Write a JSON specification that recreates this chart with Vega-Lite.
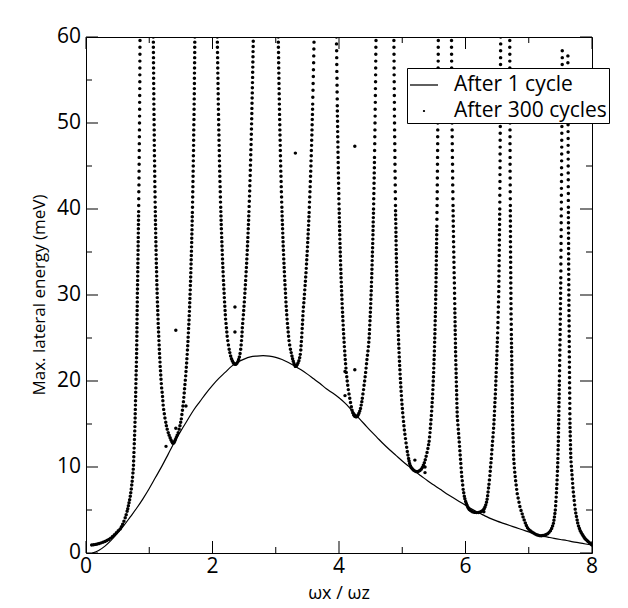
{
"$schema":"https://vega.github.io/schema/vega-lite/v6.json",
"width":506,"height":516,
"autosize":"none",
"padding":{"left":86,"top":37,"right":36,"bottom":55},
"background":"white",
"config":{"view":{"stroke":"black","strokeWidth":1},"font":"Open Sans"},
"datasets":{
"xticks":[{"v":0},{"v":1},{"v":2},{"v":3},{"v":4},{"v":5},{"v":6},{"v":7},{"v":8}],
"yticks":[{"v":0},{"v":5},{"v":10},{"v":15},{"v":20},{"v":25},{"v":30},{"v":35},{"v":40},{"v":45},{"v":50},{"v":55},{"v":60}],
"cycle1":[{"x":0.1,"y":0},{"x":0.2,"y":0.3},{"x":0.3,"y":0.8},{"x":0.4,"y":1.5},{"x":0.5,"y":2.3},{"x":0.6,"y":3.2},{"x":0.7,"y":4.2},{"x":0.8,"y":5.2},{"x":0.9,"y":6.3},{"x":1.0,"y":7.5},{"x":1.1,"y":8.8},{"x":1.2,"y":10.1},{"x":1.3,"y":11.5},{"x":1.4,"y":12.9},{"x":1.5,"y":14.2},{"x":1.6,"y":15.4},{"x":1.7,"y":16.6},{"x":1.8,"y":17.6},{"x":1.9,"y":18.6},{"x":2.0,"y":19.5},{"x":2.1,"y":20.3},{"x":2.2,"y":21.0},{"x":2.3,"y":21.7},{"x":2.4,"y":22.2},{"x":2.5,"y":22.55},{"x":2.6,"y":22.8},{"x":2.7,"y":22.9},{"x":2.8,"y":22.95},{"x":2.9,"y":22.9},{"x":3.0,"y":22.75},{"x":3.1,"y":22.5},{"x":3.2,"y":22.15},{"x":3.3,"y":21.75},{"x":3.4,"y":21.3},{"x":3.5,"y":20.8},{"x":3.6,"y":20.25},{"x":3.7,"y":19.7},{"x":3.8,"y":19.1},{"x":3.9,"y":18.6},{"x":4.0,"y":18.05},{"x":4.1,"y":17.4},{"x":4.2,"y":16.6},{"x":4.3,"y":15.8},{"x":4.4,"y":15.0},{"x":4.5,"y":14.2},{"x":4.6,"y":13.45},{"x":4.7,"y":12.7},{"x":4.8,"y":12.0},{"x":4.9,"y":11.35},{"x":5.0,"y":10.7},{"x":5.1,"y":10.1},{"x":5.2,"y":9.5},{"x":5.3,"y":8.95},{"x":5.4,"y":8.4},{"x":5.5,"y":7.9},{"x":5.6,"y":7.4},{"x":5.7,"y":6.9},{"x":5.8,"y":6.45},{"x":5.9,"y":6.0},{"x":6.0,"y":5.55},{"x":6.1,"y":5.1},{"x":6.2,"y":4.7},{"x":6.3,"y":4.35},{"x":6.4,"y":4.0},{"x":6.5,"y":3.7},{"x":6.6,"y":3.45},{"x":6.7,"y":3.2},{"x":6.8,"y":2.95},{"x":6.9,"y":2.7},{"x":7.0,"y":2.45},{"x":7.1,"y":2.2},{"x":7.2,"y":2.0},{"x":7.3,"y":1.85},{"x":7.4,"y":1.7},{"x":7.5,"y":1.57},{"x":7.6,"y":1.45},{"x":7.7,"y":1.3},{"x":7.8,"y":1.18},{"x":7.9,"y":1.05},{"x":8.0,"y":0.93}],
"cycle300":[
{"x":0.09,"y":0.93},{"x":0.12,"y":0.96},{"x":0.15,"y":1.0},{"x":0.18,"y":1.05},{"x":0.21,"y":1.11},{"x":0.24,"y":1.18},{"x":0.27,"y":1.26},{"x":0.30,"y":1.35},{"x":0.33,"y":1.45},{"x":0.36,"y":1.58},{"x":0.39,"y":1.73},{"x":0.42,"y":1.92},{"x":0.45,"y":2.13},{"x":0.48,"y":2.35},{"x":0.51,"y":2.58},{"x":0.54,"y":2.8},
{"x":0.56,"y":3.05},{"x":0.58,"y":3.35},{"x":0.60,"y":3.7},{"x":0.62,"y":4.1},{"x":0.635,"y":4.45},{"x":0.65,"y":4.85},{"x":0.66,"y":5.15},{"x":0.67,"y":5.5},{"x":0.68,"y":5.85},{"x":0.69,"y":6.2},{"x":0.70,"y":6.6},{"x":0.708,"y":7.0},{"x":0.716,"y":7.45},{"x":0.723,"y":7.9},{"x":0.73,"y":8.35},{"x":0.736,"y":8.8},{"x":0.742,"y":9.3},{"x":0.747,"y":9.75},{"x":0.751,"y":10.2},
{"x":0.753,"y":10.7},{"x":0.756,"y":11.2},{"x":0.758,"y":11.7},{"x":0.761,"y":12.2},{"x":0.763,"y":12.7},{"x":0.766,"y":13.2},{"x":0.768,"y":13.7},{"x":0.771,"y":14.2},{"x":0.773,"y":14.7},{"x":0.775,"y":15.2},{"x":0.777,"y":15.7},{"x":0.778,"y":16.2},{"x":0.780,"y":16.7},{"x":0.782,"y":17.2},{"x":0.783,"y":17.7},{"x":0.785,"y":18.2},{"x":0.786,"y":18.7},{"x":0.788,"y":19.2},{"x":0.789,"y":19.7},{"x":0.791,"y":20.2},{"x":0.792,"y":20.7},{"x":0.794,"y":21.2},{"x":0.796,"y":21.7},{"x":0.797,"y":22.2},{"x":0.799,"y":22.7},
{"x":0.800,"y":23.2},{"x":0.801,"y":23.7},{"x":0.802,"y":24.2},{"x":0.803,"y":24.7},{"x":0.804,"y":25.2},{"x":0.805,"y":25.7},{"x":0.805,"y":26.2},{"x":0.806,"y":26.7},{"x":0.807,"y":27.2},{"x":0.808,"y":27.7},{"x":0.809,"y":28.2},{"x":0.810,"y":28.7},{"x":0.811,"y":29.2},{"x":0.811,"y":29.7},{"x":0.812,"y":30.2},{"x":0.814,"y":30.7},{"x":0.815,"y":31.2},{"x":0.816,"y":31.7},{"x":0.817,"y":32.2},{"x":0.818,"y":32.7},{"x":0.819,"y":33.2},{"x":0.820,"y":33.7},{"x":0.821,"y":34.2},{"x":0.822,"y":34.7},{"x":0.823,"y":35.2},{"x":0.824,"y":35.7},{"x":0.825,"y":36.2},{"x":0.826,"y":36.7},{"x":0.827,"y":37.2},{"x":0.828,"y":37.7},{"x":0.829,"y":38.2},{"x":0.830,"y":38.7},{"x":0.831,"y":39.2},{"x":0.832,"y":39.7},
{"x":0.833,"y":40.4},{"x":0.834,"y":41.2},{"x":0.835,"y":42.0},{"x":0.837,"y":42.8},{"x":0.838,"y":43.6},{"x":0.839,"y":44.4},{"x":0.840,"y":45.2},{"x":0.841,"y":46.0},{"x":0.842,"y":46.8},{"x":0.843,"y":47.6},{"x":0.844,"y":48.4},{"x":0.845,"y":49.2},{"x":0.846,"y":50.0},{"x":0.847,"y":50.8},{"x":0.848,"y":51.6},{"x":0.848,"y":52.4},{"x":0.849,"y":53.2},{"x":0.850,"y":54.0},{"x":0.851,"y":54.8},{"x":0.851,"y":55.6},{"x":0.852,"y":56.4},{"x":0.852,"y":57.2},{"x":0.853,"y":58.0},{"x":0.853,"y":58.8},{"x":0.854,"y":59.6},
{"x":1.064,"y":60},{"x":1.065,"y":59.4},{"x":1.065,"y":58.8},{"x":1.066,"y":58.2},{"x":1.067,"y":57.6},{"x":1.067,"y":57.0},{"x":1.068,"y":56.4},{"x":1.069,"y":55.8},{"x":1.069,"y":55.2},{"x":1.070,"y":54.6},{"x":1.071,"y":54.0},{"x":1.072,"y":53.4},{"x":1.072,"y":52.8},{"x":1.073,"y":52.2},{"x":1.074,"y":51.6},{"x":1.075,"y":51.0},{"x":1.076,"y":50.4},{"x":1.077,"y":49.8},{"x":1.078,"y":49.2},{"x":1.079,"y":48.6},{"x":1.079,"y":48.0},{"x":1.080,"y":47.4},{"x":1.081,"y":46.8},{"x":1.082,"y":46.2},{"x":1.084,"y":45.6},{"x":1.085,"y":45.0},{"x":1.086,"y":44.4},{"x":1.087,"y":43.8},{"x":1.088,"y":43.2},{"x":1.089,"y":42.6},{"x":1.091,"y":42.0},{"x":1.092,"y":41.4},{"x":1.093,"y":40.8},{"x":1.095,"y":40.2},
{"x":1.096,"y":39.7},{"x":1.097,"y":39.2},{"x":1.098,"y":38.7},{"x":1.099,"y":38.2},{"x":1.101,"y":37.7},{"x":1.102,"y":37.2},{"x":1.103,"y":36.7},{"x":1.105,"y":36.2},{"x":1.106,"y":35.7},{"x":1.108,"y":35.2},{"x":1.109,"y":34.7},{"x":1.111,"y":34.2},{"x":1.112,"y":33.7},{"x":1.114,"y":33.2},{"x":1.116,"y":32.7},{"x":1.118,"y":32.2},{"x":1.119,"y":31.7},{"x":1.121,"y":31.2},{"x":1.123,"y":30.7},{"x":1.125,"y":30.2},{"x":1.127,"y":29.7},{"x":1.129,"y":29.2},{"x":1.132,"y":28.7},{"x":1.134,"y":28.2},{"x":1.136,"y":27.7},{"x":1.139,"y":27.2},{"x":1.141,"y":26.7},{"x":1.144,"y":26.2},{"x":1.147,"y":25.7},{"x":1.150,"y":25.2},{"x":1.153,"y":24.7},{"x":1.156,"y":24.2},{"x":1.159,"y":23.7},{"x":1.162,"y":23.2},{"x":1.166,"y":22.7},{"x":1.170,"y":22.2},{"x":1.173,"y":21.7},{"x":1.178,"y":21.2},{"x":1.182,"y":20.7},{"x":1.186,"y":20.2},{"x":1.191,"y":19.7},{"x":1.196,"y":19.2},
{"x":1.204,"y":18.7},{"x":1.210,"y":18.2},{"x":1.215,"y":17.7},{"x":1.220,"y":17.2},{"x":1.228,"y":16.7},{"x":1.238,"y":16.2},{"x":1.248,"y":15.7},{"x":1.261,"y":15.2},{"x":1.271,"y":14.8},{"x":1.284,"y":14.4},{"x":1.300,"y":14.0},{"x":1.314,"y":13.7},{"x":1.330,"y":13.4},{"x":1.344,"y":13.15},{"x":1.358,"y":12.95},{"x":1.370,"y":12.8},{"x":1.380,"y":12.75},
{"x":1.392,"y":12.85},{"x":1.402,"y":13.0},{"x":1.414,"y":13.2},{"x":1.428,"y":13.45},{"x":1.442,"y":13.7},{"x":1.458,"y":14.0},{"x":1.472,"y":14.4},{"x":1.485,"y":14.8},{"x":1.497,"y":15.2},{"x":1.507,"y":15.6},{"x":1.516,"y":16.1},{"x":1.525,"y":16.6},{"x":1.533,"y":17.1},{"x":1.541,"y":17.6},{"x":1.547,"y":18.1},{"x":1.553,"y":18.6},
{"x":1.558,"y":19.1},{"x":1.564,"y":19.6},{"x":1.570,"y":20.1},{"x":1.576,"y":20.6},{"x":1.581,"y":21.1},{"x":1.586,"y":21.6},{"x":1.591,"y":22.1},{"x":1.595,"y":22.6},{"x":1.600,"y":23.1},{"x":1.604,"y":23.6},{"x":1.608,"y":24.1},{"x":1.612,"y":24.6},{"x":1.615,"y":25.1},{"x":1.619,"y":25.6},{"x":1.622,"y":26.1},{"x":1.626,"y":26.6},{"x":1.629,"y":27.1},{"x":1.632,"y":27.6},{"x":1.635,"y":28.1},{"x":1.638,"y":28.6},{"x":1.640,"y":29.1},{"x":1.643,"y":29.6},{"x":1.645,"y":30.1},{"x":1.648,"y":30.6},{"x":1.650,"y":31.1},{"x":1.653,"y":31.6},{"x":1.655,"y":32.1},{"x":1.657,"y":32.6},{"x":1.659,"y":33.1},{"x":1.661,"y":33.6},{"x":1.663,"y":34.1},{"x":1.665,"y":34.6},{"x":1.667,"y":35.1},{"x":1.669,"y":35.6},{"x":1.671,"y":36.1},{"x":1.672,"y":36.6},{"x":1.674,"y":37.1},{"x":1.676,"y":37.6},{"x":1.677,"y":38.1},{"x":1.679,"y":38.6},{"x":1.680,"y":39.1},{"x":1.682,"y":39.6},
{"x":1.684,"y":40.2},{"x":1.685,"y":40.8},{"x":1.687,"y":41.4},{"x":1.688,"y":42.0},{"x":1.690,"y":42.6},{"x":1.691,"y":43.2},{"x":1.693,"y":43.8},{"x":1.694,"y":44.4},{"x":1.696,"y":45.0},{"x":1.697,"y":45.6},{"x":1.698,"y":46.2},{"x":1.700,"y":46.8},{"x":1.701,"y":47.4},{"x":1.702,"y":48.0},{"x":1.703,"y":48.6},{"x":1.704,"y":49.2},{"x":1.705,"y":49.8},{"x":1.707,"y":50.4},{"x":1.708,"y":51.0},{"x":1.709,"y":51.6},{"x":1.710,"y":52.2},{"x":1.711,"y":52.8},{"x":1.712,"y":53.4},{"x":1.713,"y":54.0},{"x":1.714,"y":54.6},{"x":1.714,"y":55.2},{"x":1.715,"y":55.8},{"x":1.716,"y":56.4},{"x":1.717,"y":57.0},{"x":1.718,"y":57.6},{"x":1.719,"y":58.2},{"x":1.719,"y":58.8},{"x":1.720,"y":59.4},{"x":1.721,"y":60.0},
{"x":2.076,"y":60},{"x":2.077,"y":59.4},{"x":2.078,"y":58.8},{"x":2.079,"y":58.2},{"x":2.081,"y":57.6},{"x":2.082,"y":57.0},{"x":2.083,"y":56.4},{"x":2.084,"y":55.8},{"x":2.086,"y":55.2},{"x":2.087,"y":54.6},{"x":2.088,"y":54.0},{"x":2.090,"y":53.4},{"x":2.091,"y":52.8},{"x":2.092,"y":52.2},{"x":2.094,"y":51.6},{"x":2.095,"y":51.0},{"x":2.097,"y":50.4},{"x":2.098,"y":49.8},{"x":2.100,"y":49.2},{"x":2.102,"y":48.6},{"x":2.103,"y":48.0},{"x":2.105,"y":47.4},{"x":2.107,"y":46.8},{"x":2.109,"y":46.2},{"x":2.110,"y":45.6},{"x":2.112,"y":45.0},{"x":2.114,"y":44.4},{"x":2.116,"y":43.8},{"x":2.118,"y":43.2},{"x":2.121,"y":42.6},{"x":2.123,"y":42.0},{"x":2.125,"y":41.4},{"x":2.127,"y":40.8},{"x":2.130,"y":40.2},
{"x":2.132,"y":39.7},{"x":2.134,"y":39.2},{"x":2.136,"y":38.7},{"x":2.138,"y":38.2},{"x":2.140,"y":37.7},{"x":2.143,"y":37.2},{"x":2.145,"y":36.7},{"x":2.148,"y":36.2},{"x":2.150,"y":35.7},{"x":2.153,"y":35.2},{"x":2.155,"y":34.7},{"x":2.158,"y":34.2},{"x":2.161,"y":33.7},{"x":2.164,"y":33.2},{"x":2.167,"y":32.7},{"x":2.170,"y":32.2},{"x":2.173,"y":31.7},{"x":2.177,"y":31.2},{"x":2.180,"y":30.7},{"x":2.184,"y":30.2},{"x":2.187,"y":29.7},{"x":2.191,"y":29.2},{"x":2.195,"y":28.7},{"x":2.199,"y":28.2},{"x":2.203,"y":27.7},{"x":2.207,"y":27.2},
{"x":2.214,"y":26.7},{"x":2.220,"y":26.2},{"x":2.226,"y":25.7},{"x":2.232,"y":25.2},{"x":2.241,"y":24.7},{"x":2.252,"y":24.2},{"x":2.263,"y":23.7},{"x":2.274,"y":23.3},{"x":2.287,"y":22.9},{"x":2.300,"y":22.6},{"x":2.313,"y":22.35},{"x":2.327,"y":22.15},{"x":2.340,"y":22.0},{"x":2.355,"y":21.95},
{"x":2.370,"y":21.95},{"x":2.385,"y":22.05},{"x":2.400,"y":22.25},{"x":2.413,"y":22.5},{"x":2.425,"y":22.8},{"x":2.436,"y":23.2},{"x":2.446,"y":23.7},{"x":2.453,"y":24.2},{"x":2.459,"y":24.7},{"x":2.464,"y":25.2},{"x":2.468,"y":25.7},{"x":2.471,"y":26.2},
{"x":2.477,"y":26.7},{"x":2.482,"y":27.2},{"x":2.488,"y":27.7},{"x":2.493,"y":28.2},{"x":2.498,"y":28.7},{"x":2.503,"y":29.2},{"x":2.507,"y":29.7},{"x":2.512,"y":30.2},{"x":2.516,"y":30.7},{"x":2.520,"y":31.2},{"x":2.524,"y":31.7},{"x":2.528,"y":32.2},{"x":2.532,"y":32.7},{"x":2.536,"y":33.2},{"x":2.540,"y":33.7},{"x":2.543,"y":34.2},{"x":2.547,"y":34.7},{"x":2.550,"y":35.2},{"x":2.553,"y":35.7},{"x":2.556,"y":36.2},{"x":2.559,"y":36.7},{"x":2.562,"y":37.2},{"x":2.565,"y":37.7},{"x":2.568,"y":38.2},{"x":2.571,"y":38.7},{"x":2.573,"y":39.2},{"x":2.576,"y":39.7},
{"x":2.579,"y":40.3},{"x":2.582,"y":40.9},{"x":2.585,"y":41.5},{"x":2.588,"y":42.1},{"x":2.590,"y":42.7},{"x":2.593,"y":43.3},{"x":2.596,"y":43.9},{"x":2.598,"y":44.5},{"x":2.600,"y":45.1},{"x":2.603,"y":45.7},{"x":2.605,"y":46.3},{"x":2.607,"y":46.9},{"x":2.610,"y":47.5},{"x":2.612,"y":48.1},{"x":2.614,"y":48.7},{"x":2.616,"y":49.3},{"x":2.618,"y":49.9},{"x":2.620,"y":50.5},{"x":2.622,"y":51.1},{"x":2.623,"y":51.7},{"x":2.625,"y":52.3},{"x":2.627,"y":52.9},{"x":2.629,"y":53.5},{"x":2.630,"y":54.1},{"x":2.632,"y":54.7},{"x":2.634,"y":55.3},{"x":2.635,"y":55.9},{"x":2.637,"y":56.5},{"x":2.638,"y":57.1},{"x":2.640,"y":57.7},{"x":2.641,"y":58.3},{"x":2.643,"y":58.9},{"x":2.644,"y":59.5},
{"x":3.040,"y":60},{"x":3.041,"y":59.4},{"x":3.042,"y":58.8},{"x":3.044,"y":58.2},{"x":3.045,"y":57.6},{"x":3.046,"y":57.0},{"x":3.047,"y":56.4},{"x":3.049,"y":55.8},{"x":3.050,"y":55.2},{"x":3.051,"y":54.6},{"x":3.053,"y":54.0},{"x":3.054,"y":53.4},{"x":3.056,"y":52.8},{"x":3.057,"y":52.2},{"x":3.059,"y":51.6},{"x":3.060,"y":51.0},{"x":3.062,"y":50.4},{"x":3.064,"y":49.8},{"x":3.065,"y":49.2},{"x":3.067,"y":48.6},{"x":3.069,"y":48.0},{"x":3.071,"y":47.4},{"x":3.072,"y":46.8},{"x":3.074,"y":46.2},{"x":3.076,"y":45.6},{"x":3.078,"y":45.0},{"x":3.080,"y":44.4},{"x":3.083,"y":43.8},{"x":3.085,"y":43.2},{"x":3.087,"y":42.6},{"x":3.089,"y":42.0},{"x":3.092,"y":41.4},{"x":3.094,"y":40.8},{"x":3.097,"y":40.2},
{"x":3.099,"y":39.7},{"x":3.101,"y":39.2},{"x":3.103,"y":38.7},{"x":3.106,"y":38.2},{"x":3.108,"y":37.7},{"x":3.111,"y":37.2},{"x":3.113,"y":36.7},{"x":3.116,"y":36.2},{"x":3.118,"y":35.7},{"x":3.121,"y":35.2},{"x":3.124,"y":34.7},{"x":3.127,"y":34.2},{"x":3.130,"y":33.7},{"x":3.133,"y":33.2},{"x":3.136,"y":32.7},{"x":3.139,"y":32.2},{"x":3.143,"y":31.7},{"x":3.146,"y":31.2},{"x":3.150,"y":30.7},{"x":3.154,"y":30.2},{"x":3.157,"y":29.7},{"x":3.161,"y":29.2},{"x":3.165,"y":28.7},{"x":3.170,"y":28.2},{"x":3.174,"y":27.7},{"x":3.179,"y":27.2},
{"x":3.185,"y":26.7},{"x":3.191,"y":26.2},{"x":3.197,"y":25.7},{"x":3.203,"y":25.2},{"x":3.210,"y":24.7},{"x":3.220,"y":24.2},{"x":3.232,"y":23.7},{"x":3.244,"y":23.3},{"x":3.256,"y":22.9},{"x":3.266,"y":22.6},{"x":3.277,"y":22.3},{"x":3.288,"y":22.05},{"x":3.299,"y":21.85},{"x":3.311,"y":21.7},
{"x":3.325,"y":21.75},{"x":3.338,"y":21.9},{"x":3.352,"y":22.1},{"x":3.366,"y":22.35},{"x":3.378,"y":22.7},{"x":3.388,"y":23.1},{"x":3.396,"y":23.6},{"x":3.400,"y":24.1},{"x":3.405,"y":24.6},{"x":3.410,"y":25.1},{"x":3.414,"y":25.6},{"x":3.418,"y":26.1},{"x":3.422,"y":26.6},{"x":3.426,"y":27.1},{"x":3.429,"y":27.6},
{"x":3.433,"y":28.1},{"x":3.438,"y":28.6},{"x":3.444,"y":29.1},{"x":3.449,"y":29.6},{"x":3.454,"y":30.1},{"x":3.459,"y":30.6},{"x":3.464,"y":31.1},{"x":3.469,"y":31.6},{"x":3.473,"y":32.1},{"x":3.478,"y":32.6},{"x":3.482,"y":33.1},{"x":3.486,"y":33.6},{"x":3.490,"y":34.1},{"x":3.494,"y":34.6},{"x":3.498,"y":35.1},{"x":3.502,"y":35.6},{"x":3.505,"y":36.1},{"x":3.509,"y":36.6},{"x":3.512,"y":37.1},{"x":3.515,"y":37.6},{"x":3.519,"y":38.1},{"x":3.522,"y":38.6},{"x":3.525,"y":39.1},{"x":3.528,"y":39.6},
{"x":3.531,"y":40.2},{"x":3.534,"y":40.8},{"x":3.538,"y":41.4},{"x":3.541,"y":42.0},{"x":3.544,"y":42.6},{"x":3.547,"y":43.2},{"x":3.550,"y":43.8},{"x":3.553,"y":44.4},{"x":3.556,"y":45.0},{"x":3.558,"y":45.6},{"x":3.561,"y":46.2},{"x":3.563,"y":46.8},{"x":3.566,"y":47.4},{"x":3.568,"y":48.0},{"x":3.571,"y":48.6},{"x":3.573,"y":49.2},{"x":3.575,"y":49.8},{"x":3.577,"y":50.4},{"x":3.580,"y":51.0},{"x":3.582,"y":51.6},{"x":3.584,"y":52.2},{"x":3.586,"y":53.0},{"x":3.589,"y":53.8},{"x":3.591,"y":54.6},{"x":3.594,"y":55.4},{"x":3.596,"y":56.2},{"x":3.599,"y":57.0},{"x":3.601,"y":57.8},{"x":3.603,"y":58.6},{"x":3.605,"y":59.4},
{"x":3.960,"y":60},{"x":3.961,"y":59.2},{"x":3.963,"y":58.4},{"x":3.964,"y":57.6},{"x":3.965,"y":56.8},{"x":3.966,"y":56.0},{"x":3.968,"y":55.2},{"x":3.969,"y":54.4},{"x":3.970,"y":53.6},{"x":3.972,"y":52.8},{"x":3.973,"y":52.0},{"x":3.974,"y":51.4},{"x":3.975,"y":50.8},{"x":3.977,"y":50.2},{"x":3.978,"y":49.6},{"x":3.979,"y":49.0},{"x":3.980,"y":48.4},{"x":3.982,"y":47.8},{"x":3.983,"y":47.2},{"x":3.984,"y":46.6},{"x":3.986,"y":46.0},{"x":3.987,"y":45.4},{"x":3.989,"y":44.8},{"x":3.990,"y":44.2},{"x":3.992,"y":43.6},{"x":3.993,"y":43.0},{"x":3.995,"y":42.4},{"x":3.997,"y":41.8},{"x":3.998,"y":41.2},{"x":4.000,"y":40.6},{"x":4.002,"y":40.0},
{"x":4.004,"y":39.5},{"x":4.005,"y":39.0},{"x":4.007,"y":38.5},{"x":4.009,"y":38.0},{"x":4.010,"y":37.5},{"x":4.012,"y":37.0},{"x":4.014,"y":36.5},{"x":4.016,"y":36.0},{"x":4.018,"y":35.5},{"x":4.020,"y":35.0},{"x":4.022,"y":34.5},{"x":4.024,"y":34.0},{"x":4.026,"y":33.5},{"x":4.029,"y":33.0},{"x":4.031,"y":32.5},{"x":4.033,"y":32.0},{"x":4.036,"y":31.5},{"x":4.038,"y":31.0},{"x":4.041,"y":30.5},{"x":4.044,"y":30.0},{"x":4.047,"y":29.5},{"x":4.049,"y":29.0},{"x":4.052,"y":28.5},{"x":4.056,"y":28.0},{"x":4.059,"y":27.5},{"x":4.062,"y":27.0},{"x":4.066,"y":26.5},{"x":4.069,"y":26.0},{"x":4.073,"y":25.5},{"x":4.077,"y":25.0},{"x":4.081,"y":24.5},{"x":4.085,"y":24.0},{"x":4.090,"y":23.5},{"x":4.094,"y":23.0},{"x":4.099,"y":22.5},{"x":4.104,"y":22.0},{"x":4.110,"y":21.5},{"x":4.115,"y":21.0},{"x":4.123,"y":20.5},{"x":4.130,"y":20.0},{"x":4.138,"y":19.5},{"x":4.147,"y":19.0},{"x":4.158,"y":18.5},{"x":4.170,"y":18.0},{"x":4.182,"y":17.5},{"x":4.195,"y":17.0},{"x":4.206,"y":16.6},{"x":4.218,"y":16.3},{"x":4.232,"y":16.05},{"x":4.248,"y":15.9},{"x":4.265,"y":15.85},
{"x":4.280,"y":15.85},{"x":4.290,"y":15.9},{"x":4.302,"y":16.05},{"x":4.315,"y":16.25},{"x":4.328,"y":16.5},{"x":4.340,"y":16.8},{"x":4.351,"y":17.2},{"x":4.361,"y":17.6},{"x":4.369,"y":18.0},{"x":4.378,"y":18.5},{"x":4.388,"y":19.0},{"x":4.396,"y":19.5},{"x":4.405,"y":20.0},{"x":4.413,"y":20.5},{"x":4.421,"y":21.0},{"x":4.428,"y":21.5},{"x":4.435,"y":22.0},{"x":4.442,"y":22.5},{"x":4.450,"y":23.0},{"x":4.458,"y":23.5},{"x":4.465,"y":24.0},{"x":4.471,"y":24.5},{"x":4.476,"y":25.0},
{"x":4.480,"y":25.5},{"x":4.483,"y":26.0},{"x":4.486,"y":26.5},{"x":4.490,"y":27.0},{"x":4.493,"y":27.5},{"x":4.496,"y":28.0},{"x":4.499,"y":28.5},{"x":4.502,"y":29.0},{"x":4.504,"y":29.5},{"x":4.507,"y":30.0},{"x":4.510,"y":30.5},{"x":4.512,"y":31.0},{"x":4.514,"y":31.5},{"x":4.517,"y":32.0},{"x":4.519,"y":32.5},{"x":4.521,"y":33.0},{"x":4.523,"y":33.5},{"x":4.525,"y":34.0},{"x":4.527,"y":34.5},{"x":4.529,"y":35.0},{"x":4.531,"y":35.5},{"x":4.533,"y":36.0},{"x":4.535,"y":36.5},{"x":4.537,"y":37.0},{"x":4.538,"y":37.5},{"x":4.540,"y":38.0},{"x":4.541,"y":38.5},{"x":4.543,"y":39.0},{"x":4.545,"y":39.5},{"x":4.546,"y":40.0},
{"x":4.548,"y":40.6},{"x":4.549,"y":41.2},{"x":4.551,"y":41.8},{"x":4.553,"y":42.4},{"x":4.554,"y":43.0},{"x":4.556,"y":43.6},{"x":4.557,"y":44.2},{"x":4.559,"y":44.8},{"x":4.560,"y":45.4},{"x":4.561,"y":46.0},{"x":4.563,"y":46.8},{"x":4.565,"y":47.6},{"x":4.566,"y":48.4},{"x":4.568,"y":49.2},{"x":4.569,"y":50.0},{"x":4.571,"y":50.8},{"x":4.572,"y":51.6},{"x":4.574,"y":52.4},{"x":4.575,"y":53.2},{"x":4.576,"y":54.0},{"x":4.578,"y":54.8},{"x":4.579,"y":55.6},{"x":4.580,"y":56.4},{"x":4.581,"y":57.2},{"x":4.582,"y":58.0},{"x":4.583,"y":58.8},{"x":4.585,"y":59.6},
{"x":4.868,"y":59.6},{"x":4.869,"y":58.8},{"x":4.870,"y":58.0},{"x":4.871,"y":57.2},{"x":4.871,"y":56.4},{"x":4.872,"y":55.6},{"x":4.873,"y":54.8},{"x":4.874,"y":54.0},{"x":4.875,"y":53.2},{"x":4.876,"y":52.4},{"x":4.876,"y":51.6},{"x":4.877,"y":50.8},{"x":4.878,"y":50.0},{"x":4.879,"y":49.2},{"x":4.880,"y":48.4},{"x":4.882,"y":47.6},{"x":4.883,"y":46.8},{"x":4.884,"y":46.0},{"x":4.885,"y":45.2},{"x":4.886,"y":44.4},{"x":4.888,"y":43.6},{"x":4.889,"y":42.8},{"x":4.890,"y":42.0},{"x":4.892,"y":41.2},{"x":4.893,"y":40.4},
{"x":4.894,"y":39.8},{"x":4.895,"y":39.3},{"x":4.896,"y":38.8},{"x":4.898,"y":38.3},{"x":4.899,"y":37.8},{"x":4.900,"y":37.3},{"x":4.901,"y":36.8},{"x":4.902,"y":36.3},{"x":4.903,"y":35.8},{"x":4.904,"y":35.3},{"x":4.906,"y":34.8},{"x":4.907,"y":34.3},{"x":4.908,"y":33.8},{"x":4.910,"y":33.3},{"x":4.911,"y":32.8},{"x":4.913,"y":32.3},{"x":4.914,"y":31.8},{"x":4.916,"y":31.3},{"x":4.917,"y":30.8},{"x":4.919,"y":30.3},{"x":4.921,"y":29.8},{"x":4.923,"y":29.3},{"x":4.924,"y":28.8},{"x":4.926,"y":28.3},{"x":4.928,"y":27.8},{"x":4.930,"y":27.3},{"x":4.932,"y":26.8},{"x":4.935,"y":26.3},{"x":4.937,"y":25.8},{"x":4.939,"y":25.3},{"x":4.942,"y":24.8},{"x":4.944,"y":24.3},{"x":4.947,"y":23.8},{"x":4.950,"y":23.3},{"x":4.953,"y":22.8},{"x":4.956,"y":22.3},{"x":4.959,"y":21.8},{"x":4.963,"y":21.3},{"x":4.966,"y":20.8},{"x":4.970,"y":20.3},{"x":4.974,"y":19.8},{"x":4.978,"y":19.3},{"x":4.982,"y":18.8},{"x":4.987,"y":18.3},{"x":4.991,"y":17.8},{"x":4.996,"y":17.3},{"x":5.002,"y":16.8},{"x":5.007,"y":16.3},{"x":5.014,"y":15.8},{"x":5.020,"y":15.3},{"x":5.027,"y":14.8},{"x":5.034,"y":14.3},{"x":5.042,"y":13.8},{"x":5.051,"y":13.3},{"x":5.060,"y":12.8},{"x":5.070,"y":12.3},{"x":5.080,"y":11.8},{"x":5.090,"y":11.4},{"x":5.100,"y":11.0},{"x":5.108,"y":10.7},{"x":5.116,"y":10.4},{"x":5.128,"y":10.15},{"x":5.142,"y":9.95},{"x":5.158,"y":9.8},{"x":5.176,"y":9.65},{"x":5.196,"y":9.55},{"x":5.216,"y":9.48},{"x":5.236,"y":9.45},
{"x":5.258,"y":9.5},{"x":5.280,"y":9.6},{"x":5.300,"y":9.75},{"x":5.318,"y":9.95},{"x":5.334,"y":10.2},{"x":5.349,"y":10.5},{"x":5.364,"y":10.85},{"x":5.378,"y":11.25},{"x":5.392,"y":11.7},{"x":5.405,"y":12.15},{"x":5.416,"y":12.6},
{"x":5.425,"y":13.0},{"x":5.432,"y":13.5},{"x":5.439,"y":14.0},{"x":5.444,"y":14.5},{"x":5.450,"y":15.0},{"x":5.455,"y":15.5},{"x":5.460,"y":16.0},{"x":5.465,"y":16.5},{"x":5.469,"y":17.0},{"x":5.473,"y":17.5},{"x":5.477,"y":18.0},{"x":5.480,"y":18.5},{"x":5.484,"y":19.0},{"x":5.487,"y":19.5},{"x":5.490,"y":20.0},{"x":5.493,"y":20.5},{"x":5.496,"y":21.0},{"x":5.498,"y":21.5},{"x":5.501,"y":22.0},{"x":5.503,"y":22.5},{"x":5.506,"y":23.0},{"x":5.508,"y":23.5},{"x":5.510,"y":24.0},{"x":5.512,"y":24.5},{"x":5.514,"y":25.0},{"x":5.516,"y":25.5},{"x":5.518,"y":26.0},{"x":5.519,"y":26.5},{"x":5.521,"y":27.0},{"x":5.523,"y":27.5},{"x":5.524,"y":28.0},{"x":5.526,"y":28.5},{"x":5.527,"y":29.0},{"x":5.529,"y":29.5},{"x":5.530,"y":30.0},{"x":5.531,"y":30.5},{"x":5.533,"y":31.0},{"x":5.534,"y":31.5},{"x":5.535,"y":32.0},{"x":5.536,"y":32.5},{"x":5.537,"y":33.0},{"x":5.538,"y":33.5},{"x":5.539,"y":34.0},{"x":5.540,"y":34.5},{"x":5.541,"y":35.0},{"x":5.542,"y":35.5},{"x":5.543,"y":36.0},{"x":5.544,"y":36.5},{"x":5.545,"y":37.0},{"x":5.546,"y":37.5},{"x":5.547,"y":38.0},
{"x":5.548,"y":38.8},{"x":5.549,"y":39.6},{"x":5.551,"y":40.4},{"x":5.552,"y":41.2},{"x":5.553,"y":42.0},{"x":5.554,"y":42.8},{"x":5.555,"y":43.6},{"x":5.556,"y":44.4},{"x":5.557,"y":45.2},{"x":5.558,"y":46.0},{"x":5.559,"y":46.8},{"x":5.560,"y":47.6},{"x":5.560,"y":48.4},{"x":5.561,"y":49.2},{"x":5.562,"y":50.0},{"x":5.563,"y":50.8},{"x":5.564,"y":51.6},{"x":5.564,"y":52.4},{"x":5.565,"y":53.2},{"x":5.566,"y":54.0},{"x":5.566,"y":54.8},{"x":5.567,"y":55.6},{"x":5.567,"y":56.4},{"x":5.568,"y":57.2},{"x":5.569,"y":58.0},{"x":5.569,"y":58.8},{"x":5.570,"y":59.6},
{"x":5.779,"y":59.6},{"x":5.779,"y":58.8},{"x":5.780,"y":58.0},{"x":5.781,"y":57.2},{"x":5.781,"y":56.4},{"x":5.782,"y":55.6},{"x":5.783,"y":54.8},{"x":5.784,"y":54.0},{"x":5.785,"y":53.2},{"x":5.785,"y":52.4},{"x":5.786,"y":51.6},{"x":5.787,"y":50.8},{"x":5.788,"y":50.0},{"x":5.789,"y":49.2},{"x":5.790,"y":48.4},{"x":5.791,"y":47.6},{"x":5.792,"y":46.8},{"x":5.793,"y":46.0},{"x":5.795,"y":45.2},{"x":5.796,"y":44.4},{"x":5.797,"y":43.6},{"x":5.798,"y":42.8},{"x":5.800,"y":42.0},{"x":5.801,"y":41.2},{"x":5.803,"y":40.4},
{"x":5.804,"y":39.8},{"x":5.805,"y":39.2},{"x":5.806,"y":38.6},{"x":5.807,"y":38.0},{"x":5.809,"y":37.4},{"x":5.810,"y":36.8},{"x":5.811,"y":36.2},{"x":5.813,"y":35.6},{"x":5.814,"y":35.0},{"x":5.816,"y":34.4},{"x":5.817,"y":33.8},{"x":5.819,"y":33.2},{"x":5.820,"y":32.6},{"x":5.822,"y":32.0},{"x":5.824,"y":31.4},{"x":5.826,"y":30.8},{"x":5.827,"y":30.2},{"x":5.828,"y":29.6},{"x":5.830,"y":29.0},{"x":5.831,"y":28.4},
{"x":5.832,"y":27.9},{"x":5.834,"y":27.4},{"x":5.835,"y":26.9},{"x":5.836,"y":26.4},{"x":5.837,"y":25.9},{"x":5.838,"y":25.4},{"x":5.840,"y":24.9},{"x":5.841,"y":24.4},{"x":5.842,"y":23.9},{"x":5.843,"y":23.4},{"x":5.845,"y":22.9},{"x":5.846,"y":22.4},{"x":5.848,"y":21.9},{"x":5.850,"y":21.4},{"x":5.852,"y":20.9},{"x":5.853,"y":20.4},{"x":5.855,"y":19.9},{"x":5.857,"y":19.4},{"x":5.859,"y":18.9},{"x":5.861,"y":18.4},{"x":5.862,"y":17.9},{"x":5.864,"y":17.4},{"x":5.866,"y":16.9},{"x":5.868,"y":16.4},{"x":5.870,"y":15.9},{"x":5.875,"y":15.4},{"x":5.880,"y":14.9},{"x":5.886,"y":14.4},{"x":5.891,"y":13.9},{"x":5.896,"y":13.4},{"x":5.901,"y":12.9},{"x":5.906,"y":12.4},{"x":5.911,"y":11.9},{"x":5.916,"y":11.4},{"x":5.921,"y":10.9},{"x":5.926,"y":10.4},{"x":5.931,"y":9.9},{"x":5.936,"y":9.4},{"x":5.941,"y":8.9},{"x":5.949,"y":8.4},{"x":5.956,"y":7.9},{"x":5.963,"y":7.4},{"x":5.972,"y":7.0},{"x":5.981,"y":6.6},{"x":5.990,"y":6.3},{"x":6.002,"y":6.0},{"x":6.013,"y":5.75},{"x":6.024,"y":5.55},{"x":6.036,"y":5.35},{"x":6.047,"y":5.2},{"x":6.060,"y":5.07},{"x":6.075,"y":4.96},{"x":6.092,"y":4.87},{"x":6.115,"y":4.78},{"x":6.145,"y":4.72},{"x":6.175,"y":4.7},
{"x":6.205,"y":4.71},{"x":6.232,"y":4.76},{"x":6.255,"y":4.85},{"x":6.278,"y":4.98},{"x":6.295,"y":5.15},{"x":6.308,"y":5.35},{"x":6.320,"y":5.6},{"x":6.332,"y":5.9},{"x":6.342,"y":6.25},{"x":6.350,"y":6.65},{"x":6.357,"y":7.1},{"x":6.364,"y":7.55},{"x":6.371,"y":8.0},{"x":6.378,"y":8.5},{"x":6.385,"y":9.0},{"x":6.391,"y":9.5},{"x":6.396,"y":10.0},{"x":6.402,"y":10.5},{"x":6.408,"y":11.0},{"x":6.413,"y":11.5},{"x":6.418,"y":12.0},{"x":6.423,"y":12.5},{"x":6.428,"y":13.0},{"x":6.434,"y":13.5},{"x":6.439,"y":14.0},{"x":6.444,"y":14.5},{"x":6.449,"y":15.0},{"x":6.452,"y":15.5},{"x":6.456,"y":16.0},{"x":6.459,"y":16.5},{"x":6.462,"y":17.0},{"x":6.465,"y":17.5},{"x":6.469,"y":18.0},{"x":6.472,"y":18.5},{"x":6.475,"y":19.0},{"x":6.478,"y":19.5},{"x":6.480,"y":20.0},{"x":6.483,"y":20.5},{"x":6.485,"y":21.0},{"x":6.488,"y":21.5},{"x":6.491,"y":22.0},{"x":6.493,"y":22.5},{"x":6.496,"y":23.0},{"x":6.498,"y":23.5},{"x":6.501,"y":24.0},{"x":6.503,"y":24.5},{"x":6.506,"y":25.0},
{"x":6.508,"y":25.6},{"x":6.511,"y":26.2},{"x":6.513,"y":26.8},{"x":6.515,"y":27.4},{"x":6.518,"y":28.0},{"x":6.520,"y":28.6},{"x":6.522,"y":29.2},{"x":6.524,"y":29.8},{"x":6.526,"y":30.4},{"x":6.527,"y":31.0},{"x":6.528,"y":31.6},{"x":6.529,"y":32.2},{"x":6.530,"y":32.8},{"x":6.531,"y":33.4},{"x":6.532,"y":34.0},{"x":6.533,"y":34.6},{"x":6.534,"y":35.2},{"x":6.535,"y":35.8},{"x":6.536,"y":36.4},{"x":6.537,"y":37.0},{"x":6.538,"y":37.6},{"x":6.539,"y":38.2},{"x":6.540,"y":38.8},{"x":6.541,"y":39.4},{"x":6.542,"y":40.0},
{"x":6.543,"y":40.8},{"x":6.543,"y":41.6},{"x":6.544,"y":42.4},{"x":6.545,"y":43.2},{"x":6.545,"y":44.0},{"x":6.546,"y":44.8},{"x":6.547,"y":45.6},{"x":6.547,"y":46.4},{"x":6.548,"y":47.2},{"x":6.548,"y":48.0},{"x":6.549,"y":48.8},{"x":6.550,"y":49.6},{"x":6.550,"y":50.4},{"x":6.551,"y":51.2},{"x":6.551,"y":52.0},{"x":6.552,"y":52.8},{"x":6.552,"y":53.6},{"x":6.553,"y":54.4},{"x":6.553,"y":55.2},{"x":6.554,"y":56.0},{"x":6.554,"y":56.8},{"x":6.555,"y":57.6},{"x":6.555,"y":58.4},{"x":6.556,"y":59.2},{"x":6.556,"y":60.0},
{"x":6.700,"y":59.6},{"x":6.700,"y":58.8},{"x":6.701,"y":58.0},{"x":6.701,"y":57.2},{"x":6.701,"y":56.4},{"x":6.702,"y":55.6},{"x":6.702,"y":54.8},{"x":6.702,"y":54.0},{"x":6.703,"y":53.2},{"x":6.703,"y":52.4},{"x":6.703,"y":51.6},{"x":6.703,"y":50.8},{"x":6.704,"y":50.0},{"x":6.704,"y":49.2},{"x":6.704,"y":48.4},{"x":6.704,"y":47.6},{"x":6.705,"y":46.8},{"x":6.705,"y":46.0},{"x":6.705,"y":45.2},{"x":6.705,"y":44.4},{"x":6.706,"y":43.6},{"x":6.707,"y":42.8},{"x":6.707,"y":42.0},{"x":6.708,"y":41.2},{"x":6.709,"y":40.4},
{"x":6.709,"y":39.8},{"x":6.709,"y":39.2},{"x":6.710,"y":38.6},{"x":6.710,"y":38.0},{"x":6.711,"y":37.4},{"x":6.711,"y":36.8},{"x":6.711,"y":36.2},{"x":6.712,"y":35.6},{"x":6.712,"y":35.0},{"x":6.713,"y":34.4},{"x":6.714,"y":33.8},{"x":6.714,"y":33.2},{"x":6.715,"y":32.6},{"x":6.716,"y":32.0},{"x":6.716,"y":31.4},{"x":6.717,"y":30.8},{"x":6.718,"y":30.2},{"x":6.718,"y":29.6},{"x":6.719,"y":29.0},{"x":6.720,"y":28.4},{"x":6.720,"y":27.8},{"x":6.722,"y":27.2},{"x":6.723,"y":26.6},{"x":6.724,"y":26.0},{"x":6.725,"y":25.4},
{"x":6.726,"y":24.9},{"x":6.727,"y":24.4},{"x":6.728,"y":23.9},{"x":6.729,"y":23.4},{"x":6.730,"y":22.9},{"x":6.731,"y":22.4},{"x":6.732,"y":21.9},{"x":6.733,"y":21.4},{"x":6.734,"y":20.9},{"x":6.735,"y":20.4},{"x":6.736,"y":19.9},{"x":6.737,"y":19.4},{"x":6.738,"y":18.9},{"x":6.738,"y":18.4},{"x":6.739,"y":17.9},{"x":6.740,"y":17.4},{"x":6.741,"y":16.9},{"x":6.742,"y":16.4},{"x":6.743,"y":15.9},{"x":6.744,"y":15.4},{"x":6.746,"y":14.9},{"x":6.748,"y":14.4},{"x":6.750,"y":13.9},{"x":6.752,"y":13.4},{"x":6.754,"y":12.9},{"x":6.756,"y":12.4},{"x":6.758,"y":11.9},{"x":6.760,"y":11.4},{"x":6.763,"y":10.9},{"x":6.768,"y":10.4},{"x":6.773,"y":9.9},{"x":6.779,"y":9.4},{"x":6.786,"y":8.9},{"x":6.793,"y":8.4},{"x":6.801,"y":7.9},{"x":6.809,"y":7.4},{"x":6.818,"y":6.9},{"x":6.832,"y":6.4},{"x":6.846,"y":5.9},{"x":6.860,"y":5.4},{"x":6.878,"y":4.95},{"x":6.896,"y":4.55},{"x":6.910,"y":4.2},{"x":6.928,"y":3.85},{"x":6.946,"y":3.5},{"x":6.962,"y":3.2},{"x":6.980,"y":2.95},{"x":7.000,"y":2.75},{"x":7.025,"y":2.58},{"x":7.050,"y":2.45},{"x":7.075,"y":2.33},{"x":7.100,"y":2.22},{"x":7.125,"y":2.13},{"x":7.150,"y":2.06},{"x":7.175,"y":2.02},
{"x":7.200,"y":2.0},{"x":7.225,"y":2.03},{"x":7.250,"y":2.08},{"x":7.275,"y":2.15},{"x":7.300,"y":2.25},{"x":7.322,"y":2.4},{"x":7.343,"y":2.6},{"x":7.362,"y":2.85},{"x":7.377,"y":3.15},{"x":7.390,"y":3.45},{"x":7.398,"y":3.8},{"x":7.406,"y":4.2},{"x":7.413,"y":4.6},{"x":7.420,"y":5.0},{"x":7.425,"y":5.5},{"x":7.429,"y":6.0},{"x":7.434,"y":6.5},{"x":7.438,"y":7.0},{"x":7.441,"y":7.5},{"x":7.445,"y":8.0},{"x":7.448,"y":8.5},{"x":7.451,"y":9.0},{"x":7.454,"y":9.5},{"x":7.457,"y":10.0},{"x":7.459,"y":10.5},{"x":7.461,"y":11.0},{"x":7.462,"y":11.5},{"x":7.464,"y":12.0},{"x":7.466,"y":12.5},{"x":7.468,"y":13.0},{"x":7.469,"y":13.5},{"x":7.470,"y":14.0},{"x":7.471,"y":14.5},{"x":7.472,"y":15.0},{"x":7.474,"y":15.5},{"x":7.475,"y":16.0},{"x":7.476,"y":16.5},{"x":7.477,"y":17.0},{"x":7.478,"y":17.5},{"x":7.480,"y":18.0},{"x":7.481,"y":18.5},{"x":7.482,"y":19.0},{"x":7.483,"y":19.5},{"x":7.484,"y":20.0},
{"x":7.485,"y":20.6},{"x":7.487,"y":21.2},{"x":7.488,"y":21.8},{"x":7.489,"y":22.4},{"x":7.491,"y":23.0},{"x":7.492,"y":23.6},{"x":7.493,"y":24.2},{"x":7.495,"y":24.8},{"x":7.496,"y":25.4},{"x":7.497,"y":26.0},{"x":7.498,"y":26.6},{"x":7.499,"y":27.2},{"x":7.500,"y":27.8},{"x":7.501,"y":28.4},{"x":7.502,"y":29.0},{"x":7.503,"y":29.6},{"x":7.504,"y":30.2},{"x":7.505,"y":30.8},{"x":7.506,"y":31.4},{"x":7.507,"y":32.0},{"x":7.508,"y":32.8},{"x":7.508,"y":33.6},{"x":7.509,"y":34.4},{"x":7.510,"y":35.2},{"x":7.511,"y":36.0},{"x":7.512,"y":36.8},{"x":7.513,"y":37.6},{"x":7.513,"y":38.4},{"x":7.514,"y":39.2},{"x":7.515,"y":40.0},{"x":7.516,"y":40.8},{"x":7.516,"y":41.6},{"x":7.517,"y":42.4},{"x":7.518,"y":43.2},{"x":7.519,"y":44.0},{"x":7.519,"y":44.8},{"x":7.520,"y":45.6},{"x":7.521,"y":46.4},{"x":7.522,"y":47.2},{"x":7.522,"y":48.0},{"x":7.523,"y":48.8},{"x":7.524,"y":49.6},{"x":7.524,"y":50.4},{"x":7.525,"y":51.2},{"x":7.525,"y":52.0},{"x":7.526,"y":52.8},{"x":7.527,"y":53.6},{"x":7.527,"y":54.4},{"x":7.528,"y":55.2},{"x":7.528,"y":56.0},{"x":7.529,"y":56.8},{"x":7.530,"y":57.6},{"x":7.530,"y":58.4},
{"x":7.619,"y":57.8},{"x":7.619,"y":57.0},{"x":7.619,"y":56.2},{"x":7.620,"y":55.4},{"x":7.620,"y":54.6},{"x":7.620,"y":53.8},{"x":7.621,"y":53.0},{"x":7.621,"y":52.2},{"x":7.621,"y":51.4},{"x":7.622,"y":50.6},{"x":7.622,"y":49.8},{"x":7.622,"y":49.0},{"x":7.623,"y":48.2},{"x":7.623,"y":47.4},{"x":7.623,"y":46.6},{"x":7.624,"y":45.8},{"x":7.624,"y":45.0},{"x":7.624,"y":44.2},{"x":7.625,"y":43.4},{"x":7.625,"y":42.6},{"x":7.626,"y":41.8},{"x":7.626,"y":41.0},{"x":7.627,"y":40.2},
{"x":7.627,"y":39.6},{"x":7.627,"y":39.0},{"x":7.628,"y":38.4},{"x":7.628,"y":37.8},{"x":7.629,"y":37.2},{"x":7.629,"y":36.6},{"x":7.630,"y":36.0},{"x":7.630,"y":35.4},{"x":7.630,"y":34.8},{"x":7.631,"y":34.2},{"x":7.631,"y":33.6},{"x":7.632,"y":33.0},{"x":7.632,"y":32.4},{"x":7.633,"y":31.8},{"x":7.633,"y":31.2},{"x":7.634,"y":30.6},{"x":7.634,"y":30.0},{"x":7.635,"y":29.4},{"x":7.635,"y":28.8},{"x":7.636,"y":28.2},{"x":7.636,"y":27.6},{"x":7.637,"y":27.0},{"x":7.638,"y":26.4},{"x":7.639,"y":25.8},{"x":7.639,"y":25.2},{"x":7.640,"y":24.6},{"x":7.641,"y":24.0},{"x":7.641,"y":23.4},{"x":7.642,"y":22.8},{"x":7.643,"y":22.2},{"x":7.643,"y":21.6},{"x":7.644,"y":21.0},{"x":7.645,"y":20.4},{"x":7.645,"y":19.8},{"x":7.646,"y":19.2},{"x":7.647,"y":18.6},{"x":7.648,"y":18.0},{"x":7.649,"y":17.4},{"x":7.649,"y":16.8},{"x":7.650,"y":16.2},{"x":7.651,"y":15.6},
{"x":7.652,"y":15.1},{"x":7.653,"y":14.6},{"x":7.655,"y":14.1},{"x":7.656,"y":13.6},{"x":7.658,"y":13.1},{"x":7.660,"y":12.6},{"x":7.661,"y":12.1},{"x":7.663,"y":11.6},{"x":7.665,"y":11.1},{"x":7.669,"y":10.6},{"x":7.674,"y":10.1},{"x":7.679,"y":9.6},{"x":7.684,"y":9.1},{"x":7.689,"y":8.6},{"x":7.694,"y":8.1},{"x":7.699,"y":7.6},{"x":7.705,"y":7.1},{"x":7.712,"y":6.6},{"x":7.719,"y":6.1},{"x":7.726,"y":5.6},{"x":7.734,"y":5.1},{"x":7.743,"y":4.65},{"x":7.754,"y":4.25},{"x":7.765,"y":3.85},{"x":7.774,"y":3.5},{"x":7.787,"y":3.15},{"x":7.801,"y":2.85},{"x":7.814,"y":2.6},{"x":7.829,"y":2.38},{"x":7.845,"y":2.18},{"x":7.860,"y":2.0},{"x":7.875,"y":1.84},{"x":7.888,"y":1.7},{"x":7.903,"y":1.58},{"x":7.918,"y":1.47},{"x":7.933,"y":1.37},{"x":7.948,"y":1.27},{"x":7.963,"y":1.18},{"x":7.978,"y":1.09},{"x":7.990,"y":1.01},{"x":8.0,"y":0.93},
{"x":1.42,"y":25.9},{"x":1.42,"y":14.5},{"x":1.265,"y":12.4},{"x":1.58,"y":17.1},{"x":2.355,"y":28.6},{"x":2.355,"y":25.7},{"x":3.31,"y":46.5},{"x":4.25,"y":47.3},{"x":4.25,"y":21.3},{"x":4.095,"y":21.1},{"x":4.095,"y":18.3},{"x":5.20,"y":10.8},{"x":5.36,"y":10.0},{"x":5.36,"y":9.35},{"x":6.29,"y":4.8}
]},
"layer":[
{"data":{"name":"cycle1"},
"mark":{"type":"line","color":"black","strokeWidth":1.2,"interpolate":"monotone"},
"encoding":{
"x":{"field":"x","type":"quantitative","scale":{"domain":[0,8],"nice":false,"zero":false},"axis":null},
"y":{"field":"y","type":"quantitative","scale":{"domain":[0,60],"nice":false,"zero":false},"axis":null}
}},
{"data":{"name":"xticks"},
"mark":{"type":"point","filled":true,"color":"black","opacity":1,"strokeWidth":0,"size":576},
"encoding":{
"x":{"field":"v","type":"quantitative","axis":null},
"y":{"datum":0,"type":"quantitative","axis":null},
"shape":{"condition":{"test":"datum.v % 2 === 0","value":"M-0.042,0H0.042V-1H-0.042Z"},"value":"M-0.042,0H0.042V-0.5H-0.042Z"}}},
{"data":{"name":"xticks"},
"mark":{"type":"point","filled":true,"color":"black","opacity":1,"strokeWidth":0,"size":576},
"encoding":{
"x":{"field":"v","type":"quantitative","axis":null},
"y":{"datum":60,"type":"quantitative","axis":null},
"shape":{"condition":{"test":"datum.v % 2 === 0","value":"M-0.042,0H0.042V1H-0.042Z"},"value":"M-0.042,0H0.042V0.5H-0.042Z"}}},
{"data":{"name":"yticks"},
"mark":{"type":"point","filled":true,"color":"black","opacity":1,"strokeWidth":0,"size":576},
"encoding":{
"y":{"field":"v","type":"quantitative","axis":null},
"x":{"datum":0,"type":"quantitative","axis":null},
"shape":{"condition":{"test":"datum.v % 10 === 0","value":"M0,-0.042V0.042H1V-0.042Z"},"value":"M0,-0.042V0.042H0.5V-0.042Z"}}},
{"data":{"name":"yticks"},
"mark":{"type":"point","filled":true,"color":"black","opacity":1,"strokeWidth":0,"size":576},
"encoding":{
"y":{"field":"v","type":"quantitative","axis":null},
"x":{"datum":8,"type":"quantitative","axis":null},
"shape":{"condition":{"test":"datum.v % 10 === 0","value":"M0,-0.042V0.042H-1V-0.042Z"},"value":"M0,-0.042V0.042H-0.5V-0.042Z"}}},
{"data":{"name":"xticks"},
"transform":[{"filter":"datum.v % 2 === 0"}],
"mark":{"type":"text","font":"Open Sans","fontSize":21,"color":"black","align":"center","baseline":"top","dy":3},
"encoding":{
"x":{"field":"v","type":"quantitative","axis":null},
"y":{"datum":0,"type":"quantitative","axis":null},
"text":{"field":"v","type":"quantitative","format":"d"}}},
{"data":{"name":"yticks"},
"transform":[{"filter":"datum.v % 10 === 0"}],
"mark":{"type":"text","font":"Open Sans","fontSize":21,"color":"black","align":"right","baseline":"middle","dx":-5},
"encoding":{
"y":{"field":"v","type":"quantitative","axis":null},
"x":{"datum":0,"type":"quantitative","axis":null},
"text":{"field":"v","type":"quantitative","format":"d"}}},
{"data":{"values":[{}]},
"mark":{"type":"text","text":"ωx / ωz","font":"Open Sans","fontSize":18,"color":"black","align":"center","baseline":"top","dy":32},
"encoding":{
"x":{"datum":4,"type":"quantitative","axis":null},
"y":{"datum":0,"type":"quantitative","axis":null}}},
{"data":{"values":[{}]},
"mark":{"type":"text","text":"Max. lateral energy (meV)","font":"Open Sans","fontSize":17,"color":"black","align":"center","baseline":"bottom","angle":270},
"encoding":{
"x":{"datum":-0.585,"type":"quantitative","axis":null},
"y":{"datum":30,"type":"quantitative","axis":null}}},
{"data":{"name":"cycle300"},
"mark":{"type":"point","filled":true,"size":1800,"opacity":1,"color":"black","strokeWidth":0,"clip":true},
"encoding":{
"x":{"field":"x","type":"quantitative","axis":null},
"y":{"field":"y","type":"quantitative","axis":null},
"shape":{"datum":"After 300 cycles","type":"nominal",
"scale":{"domain":["After 1 cycle","After 300 cycles"],"range":["M-1,-0.045H1V0.045H-1Z","M-0.08,0A0.08,0.08,0,1,0,0.08,0A0.08,0.08,0,1,0,-0.08,0Z"]},
"legend":{"orient":"none","legendX":321,"legendY":31,"title":null,"strokeColor":"black","fillColor":"white","padding":2,"labelFontSize":21,"labelFont":"Open Sans","labelColor":"black","labelOffset":15,"symbolSize":784,"rowPadding":1,"labelLimit":0,
"encode":{"symbols":{"update":{"fill":{"value":"black"},"stroke":{"value":"black"},"strokeWidth":{"value":0.4},"opacity":{"value":1}}}}}}
}}
]
}
